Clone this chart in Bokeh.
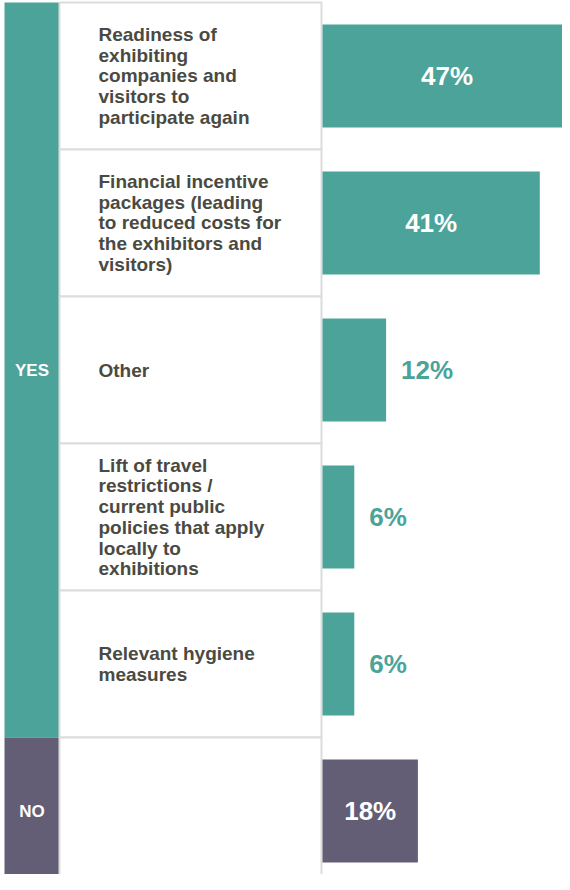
from bokeh.plotting import figure
from bokeh.models import ColumnDataSource, Range1d
from bokeh.core.properties import value
from bokeh.embed import file_html
from bokeh.resources import INLINE

# ---------------- data ----------------
categories = [
    "Readiness of\nexhibiting\ncompanies and\nvisitors to\nparticipate again",
    "Financial incentive\npackages (leading\nto reduced costs for\nthe exhibitors and\nvisitors)",
    "Other",
    "Lift of travel\nrestrictions /\ncurrent public\npolicies that apply\nlocally to\nexhibitions",
    "Relevant hygiene\nmeasures",
    "",
]
values = [47, 41, 12, 6, 6, 18]
groups = ["YES", "YES", "YES", "YES", "YES", "NO"]
group_names = ["YES", "NO"]

# ---------------- style ----------------
TEAL = "#4BA399"
PURPLE = "#635E75"
GROUP_COLORS = {"YES": TEAL, "NO": PURPLE}
TEXT_COLOR = "#4A4A42"
BORDER = "#DCDCDC"
FONT = "Liberation Sans"

W, H = 562, 874
PX_PER_PCT = 5.3      # horizontal scale
ZERO_PX = 322         # figure pixel where 0% sits
ROW_PX = 147          # row height in pixels
TOP_PX = 2            # first row top offset
BAR_HEIGHT = 0.70
INSIDE_MIN = 15       # values >= this get the label inside the bar
OUT_GAP_PX = 15


def px_to_x(px):
    return (px - ZERO_PX) / PX_PER_PCT


p = figure(
    width=W, height=H,
    x_range=Range1d(px_to_x(0), px_to_x(W)),
    y_range=Range1d((H - TOP_PX) / ROW_PX, -TOP_PX / ROW_PX),
    output_backend="svg", toolbar_location=None,
    x_axis_location=None, y_axis_location=None,
    min_border=0, min_border_left=0, min_border_right=0,
    min_border_top=0, min_border_bottom=0,
)
p.grid.visible = False
p.outline_line_color = None
p.background_fill_color = "white"
p.border_fill_color = "white"

n = len(categories)
rows = list(range(n))
centers = [i + 0.5 for i in rows]
colors = [GROUP_COLORS[g] for g in groups]

# group columns (YES / NO)
g_top, g_bot, g_col, g_mid = [], [], [], []
for g in group_names:
    idx = [i for i in rows if groups[i] == g]
    g_top.append(min(idx))
    g_bot.append(max(idx) + 1)
    g_col.append(GROUP_COLORS[g])
    g_mid.append((min(idx) + max(idx) + 1) / 2)
gsrc = ColumnDataSource(dict(top=g_top, bottom=g_bot, color=g_col, mid=g_mid, name=group_names))
p.quad(left=px_to_x(4), right=px_to_x(59), top="top", bottom="bottom",
       fill_color="color", line_color=None, source=gsrc)
p.text(x=(px_to_x(4) + px_to_x(59)) / 2, y="mid", text="name", source=gsrc,
       text_color="white", text_font=value(FONT), text_font_style="bold",
       text_font_size="17px", text_align="center", text_baseline="middle")

# label cells
csrc = ColumnDataSource(dict(top=rows, bottom=[i + 1 for i in rows], y=centers, label=categories))
p.quad(left=px_to_x(59), right=px_to_x(321), top="top", bottom="bottom",
       fill_color="white", line_color=BORDER, line_width=2, source=csrc)
p.text(x=px_to_x(98), y="y", text="label", source=csrc,
       text_color=TEXT_COLOR, text_font=value(FONT), text_font_style="bold",
       text_font_size="19px", text_align="left", text_baseline="middle",
       text_line_height=0.99)

# bars
bsrc = ColumnDataSource(dict(y=centers, v=values, color=colors))
p.hbar(y="y", left=0, right="v", height=BAR_HEIGHT, fill_color="color",
       line_color=None, source=bsrc)

# value labels
ins = [i for i in rows if values[i] >= INSIDE_MIN]
outs = [i for i in rows if values[i] < INSIDE_MIN]
isrc = ColumnDataSource(dict(x=[values[i] / 2 for i in ins], y=[centers[i] for i in ins],
                             t=[f"{values[i]}%" for i in ins]))
osrc = ColumnDataSource(dict(x=[values[i] + OUT_GAP_PX / PX_PER_PCT for i in outs],
                             y=[centers[i] for i in outs],
                             t=[f"{values[i]}%" for i in outs],
                             c=[colors[i] for i in outs]))
p.text(x="x", y="y", text="t", source=isrc, text_color="white",
       text_font=value(FONT), text_font_style="bold", text_font_size="26px",
       text_align="center", text_baseline="middle")
p.text(x="x", y="y", text="t", source=osrc, text_color="c",
       text_font=value(FONT), text_font_style="bold", text_font_size="26px",
       text_align="left", text_baseline="middle")

open("out.html", "w").write(file_html(p, INLINE))
